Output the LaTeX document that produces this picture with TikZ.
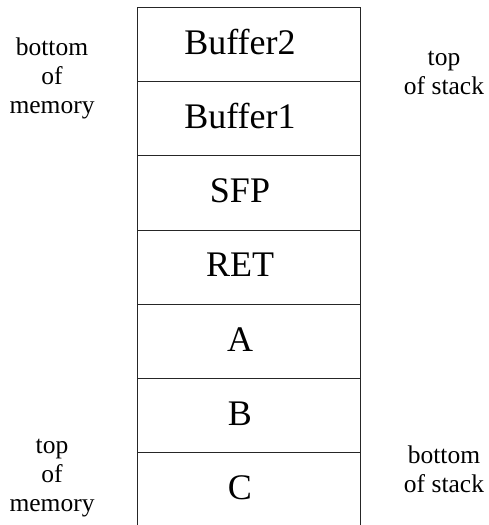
\documentclass[tikz,border=0pt]{standalone}
\usepackage{fontspec}
\setmainfont{Liberation Serif}
\begin{document}
\begin{tikzpicture}[x=1pt,y=-1pt,
  cell/.style={draw=black!85, line width=0.8pt, minimum width=223pt, minimum height=74.3pt, inner sep=0pt, outer sep=0pt},
  celltext/.style={anchor=base, inner sep=0pt, font=\fontsize{36}{43}\selectfont},
  side/.style={anchor=north, inner sep=0pt, align=center, font=\fontsize{25.5}{29}\selectfont}]
\useasboundingbox (0,0) rectangle (489,525);
\foreach \n/\t [count=\i from 0] in {c1/Buffer2,c2/Buffer1,c3/SFP,c4/RET,c5/A,c6/B,c7/C}{
  \node[cell] (\n) at (248.5, 7+74.3*\i+37.15) {};
  \node[celltext] (\n t) at (240, 7+74.3*\i+47) {\t};
}
\node[side] (bm) at (52, 34.7) {\strut bottom\\of\\memory\strut};
\node[side] (tm) at (52, 432.7) {\strut top\\of\\memory\strut};
\node[side] (ts) at (444, 44.7) {\strut top\\of stack\strut};
\node[side] (bs) at (444, 442.7) {\strut bottom\\of stack\strut};
\end{tikzpicture}
\end{document}
